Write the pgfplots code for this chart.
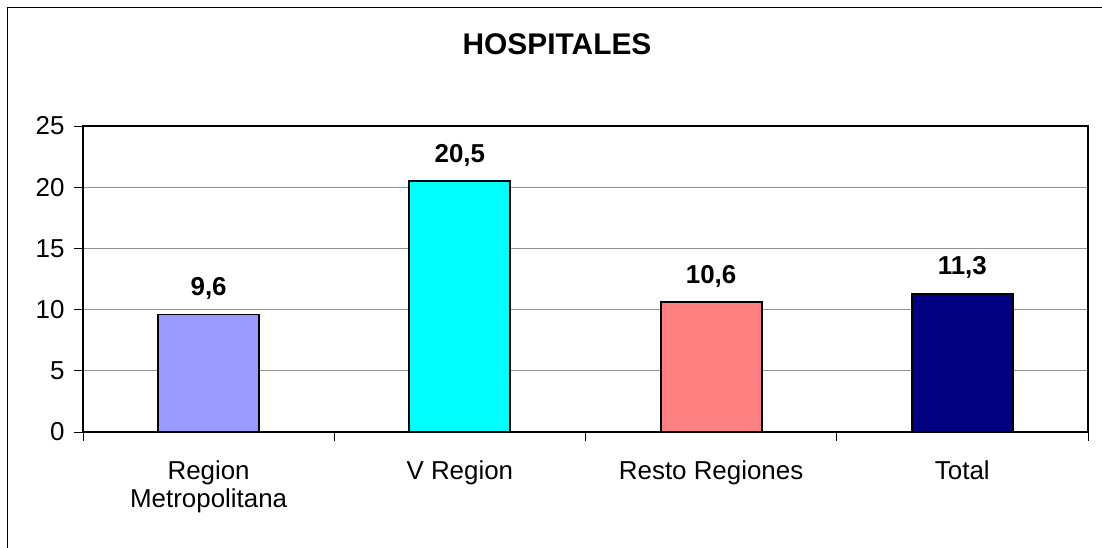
\documentclass[border=0pt]{standalone}
\usepackage{pgfplots}
\pgfplotsset{compat=1.18}
\usepackage{fontspec}
\setmainfont{Liberation Sans}
\definecolor{c1}{HTML}{9999FF}
\definecolor{c2}{HTML}{00FFFF}
\definecolor{c3}{HTML}{FF8080}
\definecolor{c4}{HTML}{000080}
\begin{document}
\begin{tikzpicture}
\useasboundingbox (0,0) rectangle (1102bp,548bp);
\draw[line width=1bp] (7.5bp,0) -- (7.5bp,540.5bp) -- (1102bp,540.5bp);
\node[font=\fontsize{30}{34}\selectfont\bfseries] at (557bp,504bp) {HOSPITALES};
\begin{axis}[
  scale only axis, width=1005bp, height=306bp,
  at={(83bp,116bp)}, anchor=south west,
  xmin=-0.5, xmax=3.5, ymin=0, ymax=25,
  ytick={0,5,...,25},
  xtick={0,1,2,3},
  xticklabels={{Region\\Metropolitana},{V Region},{Resto Regiones},{Total}},
  xticklabel style={align=center, anchor=north, yshift=-16bp, font=\fontsize{26}{28.5}\selectfont},
  minor xtick={-0.5,0.5,1.5,2.5,3.5},
  xtick pos=bottom, ytick pos=left,
  major x tick style={draw=none},
  tick align=outside,
  major tick length=9bp, minor tick length=9bp,
  tick style={black, line width=0.8bp},
  ymajorgrids, grid style={gray!85, line width=0.9bp},
  axis line style={black, line width=1.6bp},
  yticklabel style={font=\fontsize{26}{30}\selectfont, xshift=-6bp},
  /pgf/number format/assume math mode=true,
  ybar, bar width=101bp,
  bar shift=0pt,
  point meta=explicit symbolic,
  nodes near coords,
  nodes near coords style={font=\fontsize{26}{28}\selectfont\bfseries, anchor=base, yshift=19bp, inner sep=0pt},
  clip=false,
]
\addplot[fill=c1, draw=black, line width=1.8bp] coordinates {(0,9.6) [9,6]};
\addplot[fill=c2, draw=black, line width=1.8bp] coordinates {(1,20.5) [20,5]};
\addplot[fill=c3, draw=black, line width=1.8bp] coordinates {(2,10.6) [10,6]};
\addplot[fill=c4, draw=black, line width=1.8bp] coordinates {(3,11.3) [11,3]};
\end{axis}
\end{tikzpicture}
\end{document}
